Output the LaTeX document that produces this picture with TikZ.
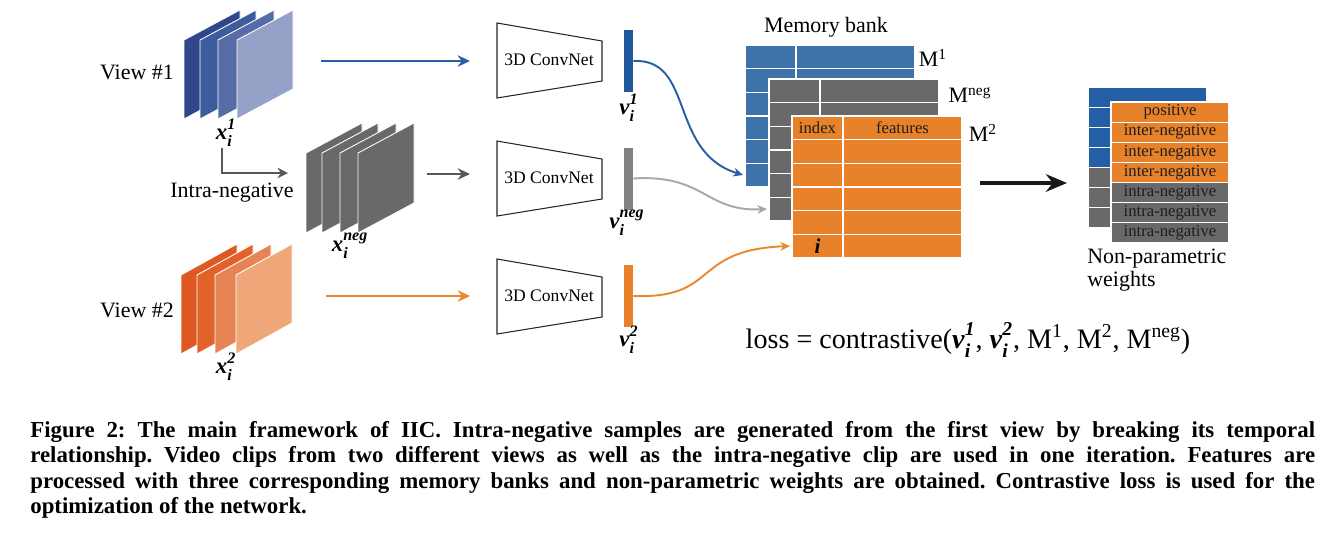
\documentclass[tikz,border=0pt]{standalone}
\usepackage{amsmath}
\usepackage{fontspec}
\setmainfont{Liberation Serif}
\usepackage{tikz}
\usetikzlibrary{arrows.meta,positioning,calc}
\definecolor{ViewOneA}{RGB}{47,72,140}
\definecolor{ViewOneB}{RGB}{60,92,158}
\definecolor{ViewOneC}{RGB}{86,108,166}
\definecolor{ViewOneD}{RGB}{150,161,199}
\definecolor{ViewTwoA}{RGB}{222,88,36}
\definecolor{ViewTwoB}{RGB}{226,98,44}
\definecolor{ViewTwoC}{RGB}{231,132,86}
\definecolor{ViewTwoD}{RGB}{239,167,122}
\definecolor{ClipGray}{RGB}{105,105,105}
\definecolor{LineBlue}{RGB}{40,96,166}
\definecolor{BarBlue}{RGB}{32,88,158}
\definecolor{BankBlue}{RGB}{62,114,170}
\definecolor{WeightBlue}{RGB}{36,94,164}
\definecolor{BankOrange}{RGB}{232,130,42}
\definecolor{LineOrange}{RGB}{236,135,45}
\definecolor{BarGray}{RGB}{130,130,130}
\definecolor{CurveGray}{RGB}{168,168,168}
\definecolor{ArrowGray}{RGB}{88,88,88}
\definecolor{TextDark}{RGB}{30,30,30}
\newcommand{\biv}[3]{$\textbf{\textit{#1}}^{\text{\raisebox{1.4pt}{\bfseries\itshape #2}}}_{\text{\raisebox{-1.1pt}{\bfseries\itshape #3}}}$}
\frenchspacing

\tikzset{
  clipframe/.style={fill=#1, draw=white, line width=0.5pt},
  netbox/.style={draw=black!85, fill=white, line width=0.6pt},
  nettext/.style={font=\fontsize{10}{12}\selectfont, inner sep=0},
  featbar/.style={fill=#1, minimum width=0.18cm, minimum height=1.24cm, inner sep=0},
  flowarrow/.style={draw=#1, line width=1.4pt, -{Stealth[length=7pt, width=6.5pt]}},
  bankcurve/.style={draw=#1, line width=1.1pt, -{Stealth[length=5.5pt, width=5pt]}},
  gridline/.style={draw=white, line width=0.8pt},
  celltext/.style={font=\fontsize{9.5}{11}\selectfont, text=TextDark, inner sep=0},
  wrow/.style={fill=#1, draw=white, line width=0.6pt, minimum width=2.36cm, minimum height=0.403cm, inner sep=0, font=\fontsize{9.5}{11}\selectfont, text=TextDark},
  captext/.style={text width=25.7cm, align=justify, inner sep=0, font=\fontsize{13}{14.4}\selectfont\bfseries}
}

\begin{document}
\begin{tikzpicture}[x=0.02cm, y=-0.02cm, font=\fontsize{12.5}{14}\selectfont]
  \useasboundingbox (0,0) rectangle (1325,532);

  % video clips
  \foreach \fx/\col in {184/ViewOneA,200/ViewOneB,218/ViewOneC,237/ViewOneD}
    \filldraw[clipframe=\col] (\fx,40) -- ++(56,-30) -- ++(0,79) -- ++(-56,30) -- cycle;
  \foreach \fx in {306,322,340,358}
    \filldraw[clipframe=ClipGray] (\fx,153) -- ++(56,-30) -- ++(0,80) -- ++(-56,30) -- cycle;
  \foreach \fx/\col in {181/ViewTwoA,197/ViewTwoB,215/ViewTwoC,236/ViewTwoD}
    \filldraw[clipframe=\col] (\fx,275) -- ++(56,-31) -- ++(0,79) -- ++(-56,31) -- cycle;

  \node (view1) at (137,72) {View \#1};
  \node (view2) at (137,310) {View \#2};
  \node (intra) at (232,193) {Intra-negative};
  \node[font=\fontsize{13}{14}\selectfont] (x1) at (226,133) {\biv{x}{1}{i}};
  \node[font=\fontsize{13}{14}\selectfont] (xneg) at (350,246) {\biv{x}{neg}{i}};
  \node[font=\fontsize{13}{14}\selectfont] (x2) at (226,367) {\biv{x}{2}{i}};

  \coordinate (intraStart) at (222,148);
  \coordinate (intraEnd) at (288,173);
  \draw[draw=ArrowGray, line width=1.2pt, -{Stealth[length=6pt, width=6pt]}] (intraStart) |- (intraEnd);

  % encoders
  \foreach \ny/\nm in {60/net1,178/net2,296/net3}{
    \draw[netbox] (497,\ny-37) -- (602,\ny-19) -- (602,\ny+21) -- (497,\ny+38) -- cycle;
    \node[nettext] (\nm) at (549,\ny) {3D ConvNet};
  }
  \coordinate (in1a) at (321,61);  \coordinate (in1b) at (470,61);
  \coordinate (inNa) at (427,174); \coordinate (inNb) at (470,174);
  \coordinate (in2a) at (326,296); \coordinate (in2b) at (470,296);
  \draw[flowarrow=LineBlue] (in1a) -- (in1b);
  \draw[flowarrow=ArrowGray] (inNa) -- (inNb);
  \draw[flowarrow=LineOrange] (in2a) -- (in2b);

  % features
  \node[featbar=BarBlue] (bar1) at (628.5,61) {};
  \node[featbar=BarGray] (barN) at (628.5,178.5) {};
  \node[featbar=BankOrange] (bar2) at (628.5,296) {};
  \node[font=\fontsize{13}{14}\selectfont] (v1) at (629,108) {\biv{v}{1}{i}};
  \node[font=\fontsize{13}{14}\selectfont] (vneg) at (627,223) {\biv{v}{neg}{i}};
  \node[font=\fontsize{13}{14}\selectfont] (v2) at (629,340) {\biv{v}{2}{i}};

  % memory banks
  \foreach \bx/\by/\col/\nm in {745/45/BankBlue/m1,769/79/ClipGray/mneg,792/116/BankOrange/m2}{
    \fill[\col] (\bx,\by) rectangle ++(170,142);
    \foreach \k in {1,...,5}
      \draw[gridline] (\bx,\by+\k*23.67) -- ++(170,0);
    \draw[gridline] (\bx+51,\by) -- ++(0,142);
    \draw[gridline] (\bx,\by) rectangle ++(170,142);
    \coordinate (\nm-last) at (\bx-2,\by+130);
  }
  \node[celltext] (index) at (817.5,128) {index};
  \node[celltext] (feat) at (902.5,128) {features};
  \node[font=\fontsize{12}{14}\selectfont\bfseries\itshape, inner sep=0] (idx) at (817.5,246) {i};

  \node (bank) at (826,27) {Memory bank};
  \node (lm1) at (933,58) {M\textsuperscript{1}};
  \node (lmneg) at (970,95) {M\textsuperscript{neg}};
  \node (lm2) at (983,133) {M\textsuperscript{2}};

  \draw[bankcurve=LineBlue] (bar1.east) .. controls (695,58) and (668,152) .. (m1-last);
  \draw[bankcurve=CurveGray] (barN.east) .. controls (705,174) and (705,212) .. (mneg-last);
  \draw[bankcurve=LineOrange] (bar2.east) .. controls (720,299) and (690,250) .. (m2-last);

  % weights
  \coordinate (outA) at (980,183);
  \coordinate (outB) at (1067,183);
  \draw[draw=black!90, line width=2.2pt, -{Stealth[length=12pt, width=10pt]}] (outA) -- (outB);

  \foreach \k/\col in {0/WeightBlue,1/WeightBlue,2/WeightBlue,3/WeightBlue,4/ClipGray,5/ClipGray,6/ClipGray}
    \filldraw[fill=\col, draw=white, line width=0.6pt] (1088,87+\k*20.14) rectangle ++(119,20.14);
  \foreach \k/\col/\txt in {0/BankOrange/positive,1/BankOrange/inter-negative,2/BankOrange/inter-negative,3/BankOrange/inter-negative,4/ClipGray/intra-negative,5/ClipGray/intra-negative,6/ClipGray/intra-negative}
    \node[wrow=\col] (w\k) at (1170,112.07+\k*20.14) {\txt};
  \node[anchor=west, align=left, inner sep=0, font=\fontsize{12.5}{13}\selectfont] (wlabel) at (1087,270.5) {Non-parametric\\weights};

  \node[font=\fontsize{16}{18}\selectfont] (loss) at (968,340) {loss = contrastive(\biv{v}{1}{i}, \biv{v}{2}{i}, M\textsuperscript{1}, M\textsuperscript{2}, M\textsuperscript{neg})};

  \node[captext, anchor=north west] (caption) at (30,421) {Figure 2: The main framework of IIC. Intra-negative samples are generated from the first view by breaking its temporal\linebreak relationship. Video clips from two different views as well as the intra-negative clip are used in one iteration. Features are\linebreak processed with three corresponding memory banks and non-parametric weights are obtained. Contrastive loss is used for the\linebreak optimization of the network.};
\end{tikzpicture}
\end{document}
